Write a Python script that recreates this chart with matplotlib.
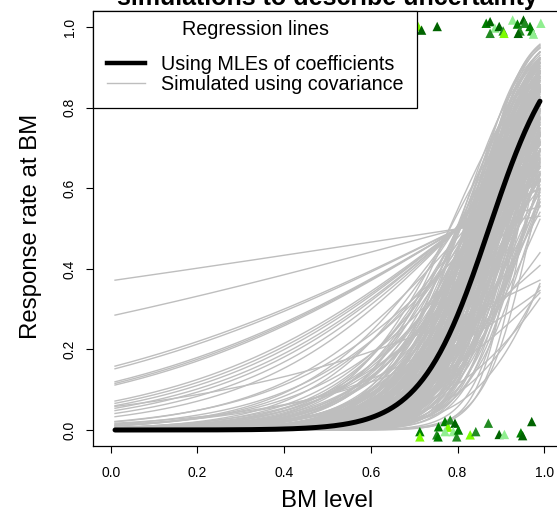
import numpy as np
import matplotlib
matplotlib.use("Agg")
import matplotlib.pyplot as plt
from matplotlib.lines import Line2D

plt.rcParams['font.family'] = ['Liberation Sans', 'DejaVu Sans']

# ---------------- data ----------------
title_text = "simulations to describe uncertainty"
x_label = "BM level"
y_label = "Response rate at BM"
legend_title = "Regression lines"
legend_labels = ["Using MLEs of coefficients", "Simulated using covariance"]
x_ticks = [0.0, 0.2, 0.4, 0.6, 0.8, 1.0]
y_ticks = [0.0, 0.2, 0.4, 0.6, 0.8, 1.0]
tick_labels = ["0.0", "0.2", "0.4", "0.6", "0.8", "1.0"]

# MLE logistic coefficients
mle_intercept = -11.08
mle_slope = 12.7

# simulated coefficient draws (intercept, slope)
sim_intercepts = [
    -11.08, -8.55, -13.52, -11.04, -7.91, -14.86, -10.77, -12.18, -9.00, -14.81,
    -10.06, -6.48, -15.59, -12.39, -9.55, -13.04, -9.50, -13.01, -7.42, -17.65,
    -11.22, -14.17, -7.85, -11.94, -9.01, -17.24, -9.67, -12.76, -5.58, -16.68,
    -11.00, -13.64, -8.19, -18.31, -10.44, -10.57, -6.63, -14.02, -9.06, -16.74,
    -11.44, -12.19, -7.10, -14.34, -9.83, -12.17, -5.36, -14.33, -9.62, -16.50,
    -10.59, -13.24, -7.90, -14.90, -10.17, -11.45, -18.65, -8.63, -13.56, -6.73,
    -10.37, -16.46, -11.76, -9.21, -14.80, -9.73, -12.28, -6.94, -18.80, -10.83,
    -12.81, -8.66, -14.42, -11.98, -4.63, -10.99, -12.65, -8.50, -14.70, -10.62,
    -15.67, -9.52, -13.30, -7.78, -12.92, -9.91, -12.25, -18.48, -8.14, -11.16,
    -15.48, -6.20, -11.33, -10.18, -15.88, -9.18, -13.23, -5.17, -10.88, -15.48,
    -10.68, -7.39, -12.00, -5.38, -12.02, -8.41, -14.39, -5.95, -11.60, -8.66,
    -15.83, -9.19, -4.58, -13.36, -8.67, -10.06, -7.46, -13.45, -5.65, -11.63,
    -8.07, -15.62, -10.07, -7.46, -10.29, -13.51, -3.93, -9.77, -13.93, -7.11,
    -11.54, -10.61, -16.87, -6.14, -10.97, -8.19, -12.45, -8.82, -4.61, -11.67,
    -11.24, -7.28, -14.40, -10.17, -6.47, -12.78, -8.70, -7.50, -12.34, -18.50,
    -6.50, -10.13, -14.92, -11.20, -5.04, -9.55, -12.59, -6.49, -10.61, -14.79,
    -8.39, -9.17, -12.49, -5.24, -13.09, -9.53, -7.67, -11.39, -17.18, -9.53,
    -6.02, -11.99, -7.65, -11.13, -3.87, -10.46, -14.21, -7.61, -10.23, -13.92,
    -5.89, -10.76, -11.03, -7.87, -16.97, -8.53, -11.73, -6.79, -12.95, -9.64,
    -6.43, -11.62, -13.51, -9.51, -10.22, -4.26, -9.16, -12.61, -9.80, -15.25,
    -0.53, -0.93, -1.69, -1.74, -2.02, -2.06, -2.10, -2.59, -2.68, -2.78,
    -2.90, -3.02, -3.19, -3.42,
    -2.80, -4.10, -5.61, -7.65, -9.50, -4.33, -6.18, -11.45,
    -20.95, -18.43, -22.39,
]
sim_slopes = [
    12.7, 10.2, 15.1, 13.4, 8.9, 17.2, 11.6, 14.3, 9.8, 16.0,
    12.1, 7.6, 18.5, 13.0, 11.0, 15.8, 10.6, 14.8, 9.2, 19.6,
    12.4, 16.7, 8.2, 13.8, 11.3, 20.5, 10.0, 14.0, 6.8, 17.8,
    12.9, 15.4, 9.5, 21.5, 11.8, 13.2, 7.2, 16.3, 10.9, 18.9,
    12.2, 14.6, 8.6, 15.0, 11.5, 13.6, 6.2, 17.0, 10.4, 19.2,
    12.6, 14.2, 9.0, 16.5, 11.2, 13.3, 22.0, 10.7, 15.6, 8.0,
    12.0, 18.0, 14.4, 9.7, 16.9, 11.9, 13.9, 7.9, 20.0, 12.3,
    15.2, 10.1, 17.5, 13.1, 5.6, 11.4, 14.9, 9.4, 16.1, 12.8,
    18.3, 10.8, 13.7, 8.4, 15.5, 11.7, 14.1, 21.0, 9.9, 12.5,
    16.6, 7.0, 13.5, 11.1, 19.0, 10.3, 14.7, 6.5, 12.7, 17.4,
    11.9, 8.7, 14.5, 6.0, 12.8, 10.5, 16.2, 7.4, 13.3, 9.3,
    18.2, 11.0, 5.2, 14.0, 10.0, 12.5, 8.1, 15.7, 6.6, 13.9,
    9.6, 17.1, 11.6, 7.7, 12.2, 14.8, 4.8, 10.8, 16.6, 8.9,
    13.0, 11.3, 19.5, 7.1, 12.0, 9.1, 15.3, 10.4, 5.8, 13.6,
    11.8, 8.4, 16.9, 12.4, 6.9, 14.3, 10.6, 9.0, 13.4, 20.8,
    7.8, 11.5, 15.9, 12.9, 5.5, 10.2, 14.6, 8.3, 12.1, 17.7,
    9.5, 11.2, 13.8, 6.3, 15.0, 10.7, 8.8, 12.6, 18.6, 11.1,
    7.3, 14.2, 9.8, 13.1, 4.5, 10.9, 16.4, 8.5, 12.3, 15.1,
    6.7, 11.7, 13.5, 9.2, 19.9, 10.3, 12.7, 7.5, 14.9, 11.4,
    8.0, 13.2, 16.0, 9.7, 12.0, 5.0, 10.1, 14.4, 11.0, 17.3,
    0.66, 1.16, 2.11, 2.17, 2.52, 2.57, 2.62, 3.24, 3.35, 3.48,
    3.62, 3.78, 3.99, 4.28,
    2.3, 3.5, 5.0, 7.0, 9.0, 4.0, 6.0, 11.0,
    22.0, 19.0, 24.0,
]

# observed responses (jittered around 0 and 1)
obs0_x = [0.713, 0.713, 0.756, 0.752, 0.755, 0.771, 0.778, 0.783, 0.794, 0.771,
          0.790, 0.798, 0.802, 0.829, 0.842, 0.871, 0.896, 0.908, 0.946, 0.950, 0.971]
obs0_y = [-0.004, -0.017, 0.008, -0.012, -0.017, 0.021, 0.007, 0.025, 0.017, -0.004,
          -0.004, -0.017, 0.000, -0.012, -0.004, 0.017, -0.011, -0.011, -0.007, -0.014, 0.021]
obs0_col = ["green", "lawngreen", "green", "forestgreen", "green", "green", "lawngreen",
            "forestgreen", "darkgreen", "lightgreen", "lightgreen", "forestgreen", "green",
            "lawngreen", "forestgreen", "forestgreen", "darkgreen", "lightgreen", "green",
            "darkgreen", "darkgreen"]

obs1_x = [0.709, 0.717, 0.753, 0.866, 0.875, 0.886, 0.875, 0.896, 0.905, 0.907,
          0.927, 0.938, 0.952, 0.955, 0.944, 0.967, 0.971, 0.975, 0.992, 0.940]
obs1_y = [1.002, 0.993, 1.002, 1.010, 1.014, 0.998, 0.985, 1.002, 0.991, 0.985,
          1.018, 1.008, 1.018, 1.010, 0.991, 1.002, 0.991, 0.983, 1.010, 0.985]
obs1_col = ["lawngreen", "darkgreen", "darkgreen", "green", "darkgreen", "lightgreen",
            "forestgreen", "darkgreen", "forestgreen", "lawngreen", "lightgreen", "green",
            "darkgreen", "forestgreen", "forestgreen", "green", "green", "lightgreen",
            "lightgreen", "darkgreen"]

# ---------------- plotting ----------------
W, H = 557, 514
fig = plt.figure(figsize=(W / 100, H / 100), dpi=100)
ax = fig.add_axes([92.7 / W, 1 - 446 / H, 469.6 / W, 435.5 / H])

bm_grid = np.linspace(0.01, 0.99, 197)

def logistic(a, b, x):
    return 1.0 / (1.0 + np.exp(-(a + b * x)))

for a, b in zip(sim_intercepts, sim_slopes):
    ax.plot(bm_grid, logistic(a, b, bm_grid), color="#BEBEBE", lw=1.0, zorder=2)

ax.plot(bm_grid, logistic(mle_intercept, mle_slope, bm_grid), color="black",
        lw=3.6, solid_capstyle="round", zorder=3)

ax.scatter(obs0_x, obs0_y, c=obs0_col, marker="^", s=46, linewidths=0, zorder=4)
ax.scatter(obs1_x, obs1_y, c=obs1_col, marker="^", s=46, linewidths=0, zorder=4)

ax.set_xlim(-0.0415, 1.0415)
ax.set_ylim(-0.0397, 1.0417)
ax.set_xticks(x_ticks)
ax.set_xticklabels(tick_labels)
ax.set_yticks(y_ticks)
ax.set_yticklabels(tick_labels, rotation=90, va="center")
ax.tick_params(axis="both", direction="out", length=5, width=0.8, labelsize=10)
ax.tick_params(axis="x", pad=9.5)
ax.tick_params(axis="y", pad=6.5)
for sp in ax.spines.values():
    sp.set_linewidth(0.9)

ax.set_title(title_text, fontsize=18, fontweight="bold", pad=4)
ax.set_xlabel(x_label, fontsize=17.3)
ax.set_ylabel(y_label, fontsize=17.3)
ax.xaxis.set_label_coords(0.5, -0.102)
ax.yaxis.set_label_coords(-0.1086, 0.504)

handles = [Line2D([], [], color="black", lw=3.2),
           Line2D([], [], color="#BEBEBE", lw=1.0)]
leg = ax.legend(handles, legend_labels, title=legend_title, loc="upper left",
                bbox_to_anchor=(0, 1), borderaxespad=0, fontsize=14.2,
                title_fontsize=14.2, fancybox=False, edgecolor="black",
                framealpha=1, borderpad=0.5, handlelength=1.95,
                handletextpad=0.8, labelspacing=0.08)
leg.get_frame().set_linewidth(0.9)
leg._legend_box.sep = 8.0
leg._legend_handle_box.pad = 3
leg.set_zorder(5)

fig.savefig("out.png", dpi=100)
